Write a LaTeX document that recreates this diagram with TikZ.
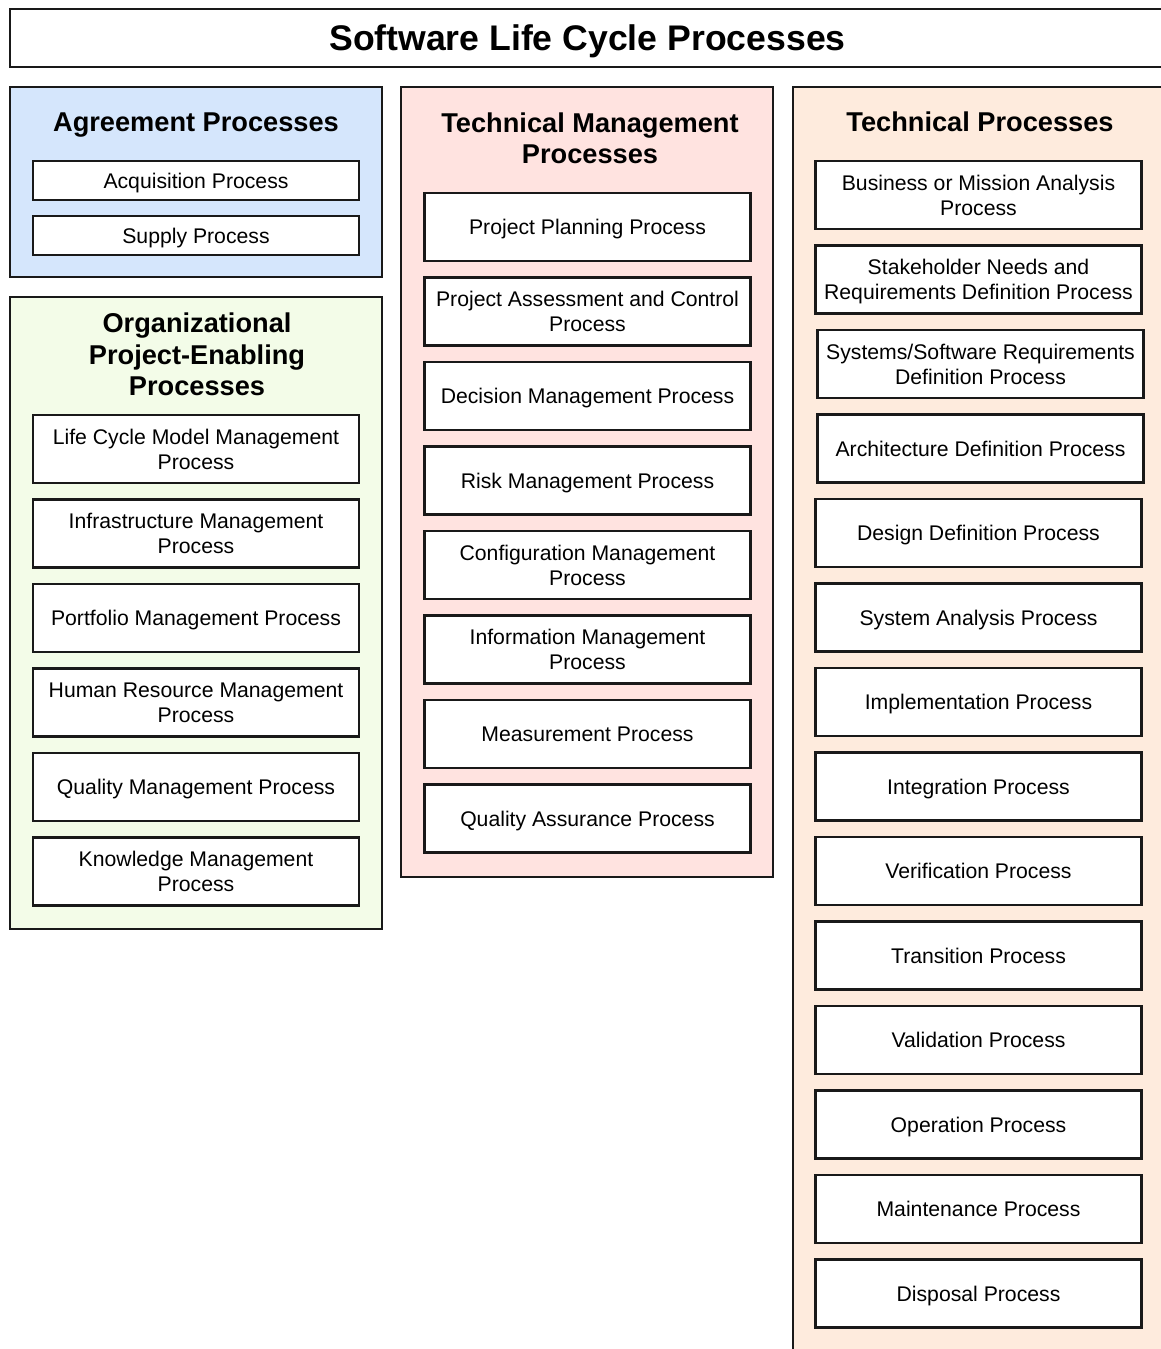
\documentclass[tikz,border=0pt]{standalone}
\usepackage{fontspec}
\setmainfont{Liberation Sans}
\usetikzlibrary{positioning}
\definecolor{agreeblue}{HTML}{D5E6FC}
\definecolor{orggreen}{HTML}{F3FCE8}
\definecolor{mgmtpink}{HTML}{FFE3E0}
\definecolor{techpeach}{HTML}{FEEBDD}
\tikzstyle{panel} = [rectangle, draw=black!90, line width=2.6pt, minimum width=372pt, inner sep=0pt]
\tikzstyle{heading} = [align=center, text depth=0pt, font=\fontsize{27.2}{31.5}\selectfont\bfseries]
\tikzstyle{process} = [rectangle, minimum width=326pt, minimum height=68pt, text centered, align=center, text depth=0pt, draw=black!90, line width=2.6pt, fill=white, font=\fontsize{21.2}{25}\selectfont]
\tikzstyle{smallprocess} = [process, minimum height=39pt]

\begin{document}
\begin{tikzpicture}[x=1pt, y=-1pt, node distance=84.5pt]
\useasboundingbox (0,0) rectangle (1161,1349);

\node (title) [panel, minimum width=1155pt, minimum height=58pt, fill=white] at (587.5,38) {};
\node [text depth=0pt] at (title) {\fontsize{35.6}{40}\selectfont\bfseries Software Life Cycle Processes};

% panels
\node (agree) [panel, minimum height=190pt, fill=agreeblue] at (196,182) {};
\node (org) [panel, minimum height=632pt, fill=orggreen] at (196,613) {};
\node (mgmt) [panel, minimum height=790pt, fill=mgmtpink] at (587,482) {};
\node (tech) [panel, minimum height=1283pt, fill=techpeach] at (979,728.5) {};

% headings
\node (agreetitle) [heading] at (196,122) {Agreement Processes};
\node (orgtitle) [heading] at (197,354.5) {Organizational\\Project-Enabling\\Processes};
\node (mgmttitle) [heading] at (590,138) {Technical Management\\Processes};
\node (techtitle) [heading] at (980,122) {Technical Processes};

% agreement
\node (acq) [smallprocess] at (196,180.5) {Acquisition Process};
\node (supply) [smallprocess, below of=acq, node distance=55pt] {Supply Process};

% organizational project-enabling
\node (lcmodel) [process] at (196,449) {Life Cycle Model Management\\Process};
\node (infra) [process, below of=lcmodel] {Infrastructure Management\\Process};
\node (portfolio) [process, below of=infra] {Portfolio Management Process};
\node (hr) [process, below of=portfolio] {Human Resource Management\\Process};
\node (qm) [process, below of=hr] {Quality Management Process};
\node (km) [process, below of=qm] {Knowledge Management\\Process};

% technical management
\node (plan) [process] at (587.5,227) {Project Planning Process};
\node (assess) [process, below of=plan] {Project Assessment and Control\\Process};
\node (decision) [process, below of=assess] {Decision Management Process};
\node (risk) [process, below of=decision] {Risk Management Process};
\node (config) [process, below of=risk] {Configuration Management\\Process};
\node (info) [process, below of=config] {Information Management\\Process};
\node (measure) [process, below of=info] {Measurement Process};
\node (qa) [process, below of=measure] {Quality Assurance Process};

% technical
\node (business) [process] at (978.5,195) {Business or Mission Analysis\\Process};
\node (stake) [process, below of=business] {Stakeholder Needs and\\Requirements Definition Process};
\node (sysreq) [process, below of=stake, xshift=2pt] {Systems/Software Requirements\\Definition Process};
\node (arch) [process, below of=sysreq] {Architecture Definition Process};
\node (design) [process, below of=arch, xshift=-2pt] {Design Definition Process};
\node (analysis) [process, below of=design] {System Analysis Process};
\node (impl) [process, below of=analysis] {Implementation Process};
\node (integ) [process, below of=impl] {Integration Process};
\node (verif) [process, below of=integ] {Verification Process};
\node (trans) [process, below of=verif] {Transition Process};
\node (valid) [process, below of=trans] {Validation Process};
\node (oper) [process, below of=valid] {Operation Process};
\node (maint) [process, below of=oper] {Maintenance Process};
\node (disposal) [process, below of=maint] {Disposal Process};

\end{tikzpicture}
\end{document}
